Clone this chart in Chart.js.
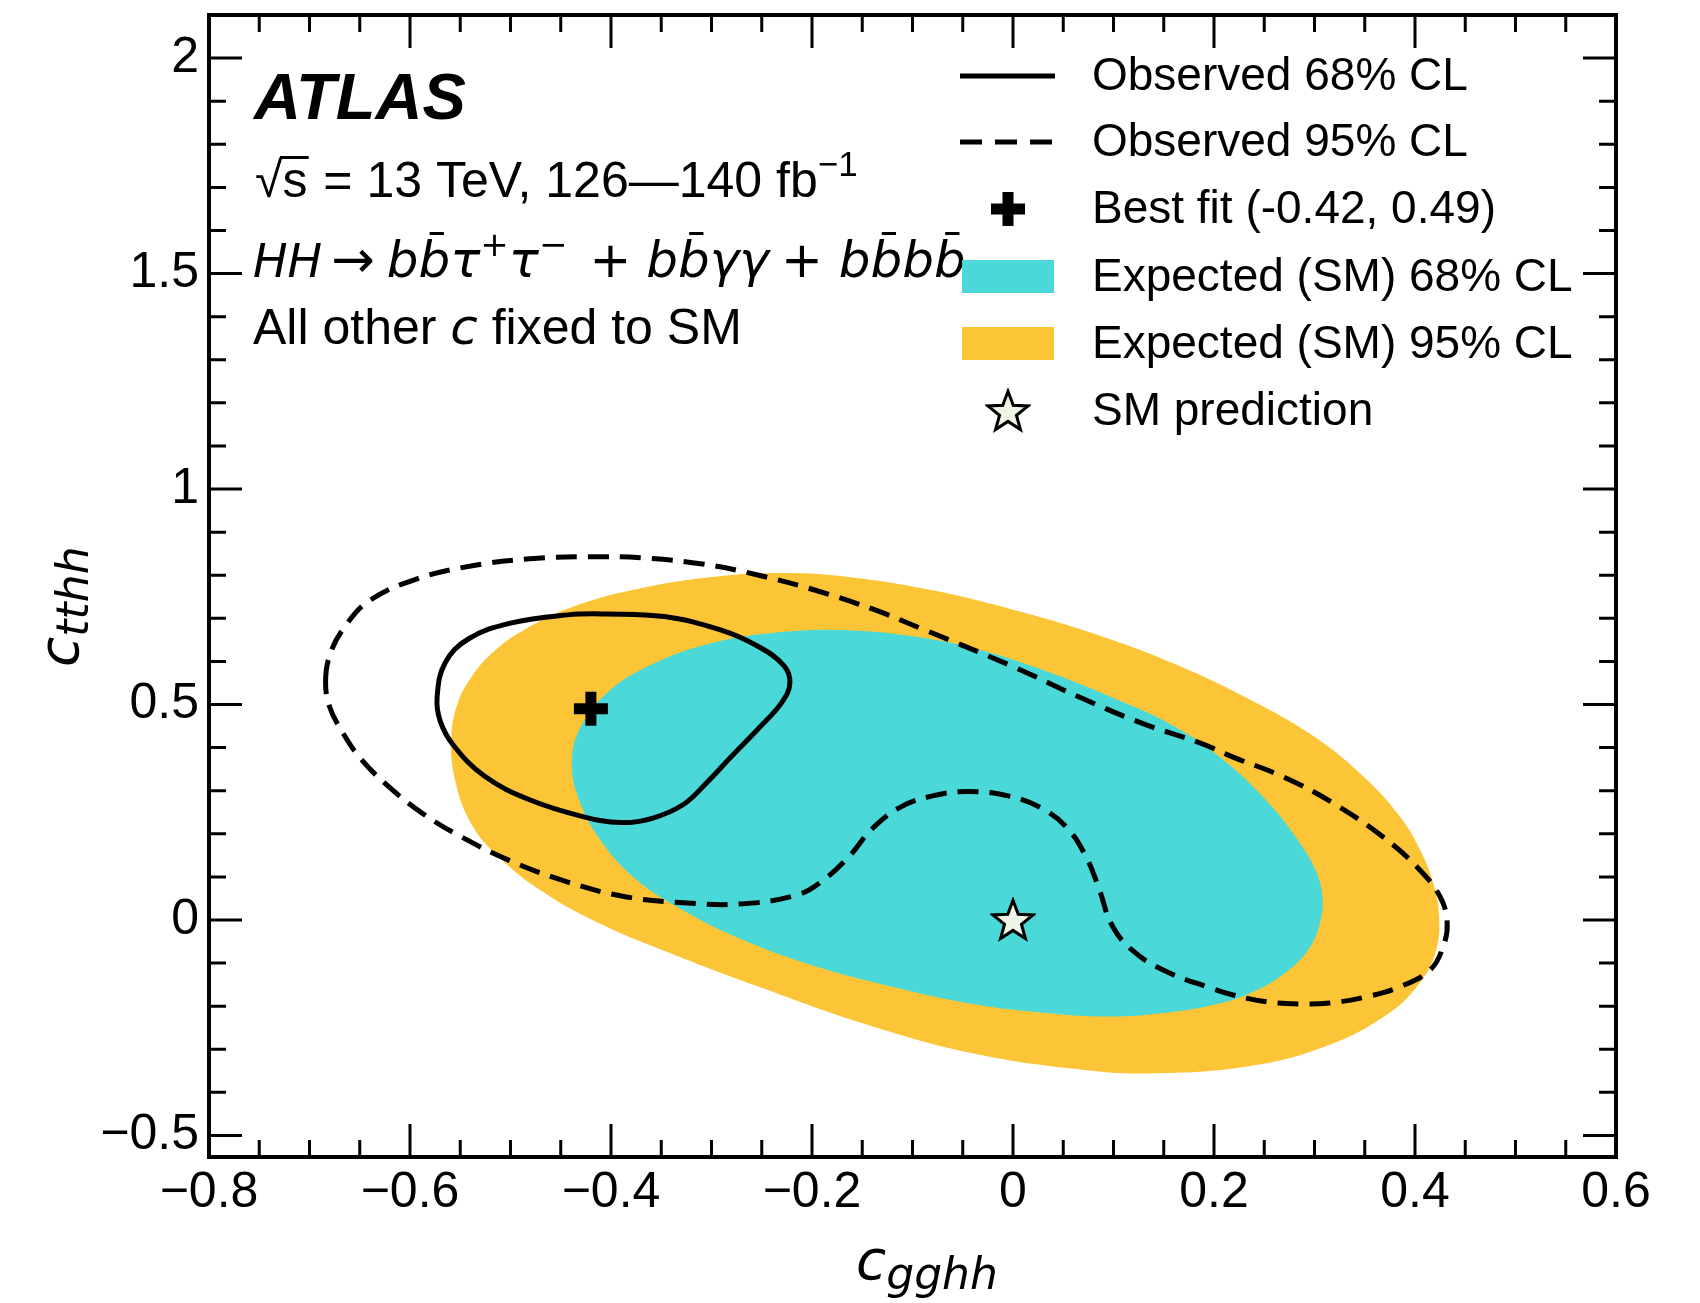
<!DOCTYPE html>
<html>
<head>
<meta charset="utf-8">
<title>c_gghh vs c_tthh likelihood contours</title>
<script src="https://cdn.jsdelivr.net/npm/chart.js@4.4.1/dist/chart.umd.min.js"></script>
<style>
  html, body { margin: 0; padding: 0; background: #fff; }
  #wrap { width: 1700px; height: 1303px; position: relative; }
</style>
</head>
<body>
<div id="wrap"><canvas id="contourChart"></canvas></div>
<script>
// Contours (c_gghh on x, c_tthh on y), closed loops
const exp95Cgghh = [-0.559, -0.553, -0.540, -0.518, -0.485, -0.44, -0.38, -0.31, -0.234, -0.16, -0.08, 0.0, 0.08, 0.16, 0.236, 0.30, 0.350, 0.385, 0.405, 0.418, 0.424, 0.421, 0.406, 0.373, 0.309, 0.233, 0.136, 0.071, -0.037, -0.145, -0.253, -0.339, -0.415, -0.469, -0.512, -0.539, -0.555];
const exp95Ctthh = [0.42, 0.50, 0.56, 0.62, 0.675, 0.725, 0.765, 0.793, 0.805, 0.795, 0.765, 0.72, 0.665, 0.595, 0.511, 0.425, 0.33, 0.24, 0.163, 0.086, 0.007, -0.07, -0.142, -0.218, -0.295, -0.340, -0.356, -0.348, -0.311, -0.243, -0.155, -0.079, -0.004, 0.067, 0.147, 0.223, 0.323];

const exp68Cgghh = [-0.439, -0.432, -0.405, -0.36, -0.30, -0.23, -0.16, -0.09, -0.03, 0.03, 0.10, 0.16, 0.21, 0.255, 0.285, 0.302, 0.308, 0.305, 0.295, 0.275, 0.245, 0.205, 0.15, 0.093, 0.03, -0.04, -0.12, -0.20, -0.27, -0.33, -0.378, -0.412, -0.432];
const exp68Ctthh = [0.36, 0.439, 0.525, 0.592, 0.642, 0.668, 0.672, 0.655, 0.625, 0.58, 0.515, 0.45, 0.37, 0.27, 0.18, 0.11, 0.05, -0.01, -0.065, -0.115, -0.16, -0.194, -0.216, -0.224, -0.215, -0.195, -0.155, -0.105, -0.045, 0.025, 0.10, 0.19, 0.28];

const obs68Cgghh = [-0.573, -0.565, -0.542, -0.500, -0.443, -0.405, -0.347, -0.291, -0.253, -0.228, -0.222, -0.230, -0.253, -0.280, -0.305, -0.328, -0.359, -0.390, -0.428, -0.481, -0.526, -0.557, -0.570];
const obs68Ctthh = [0.518, 0.597, 0.652, 0.689, 0.708, 0.710, 0.704, 0.673, 0.634, 0.590, 0.550, 0.505, 0.445, 0.380, 0.318, 0.268, 0.236, 0.226, 0.240, 0.279, 0.334, 0.406, 0.462];

const obs95Cgghh = [-0.684, -0.679, -0.665, -0.641, -0.595, -0.538, -0.481, -0.424, -0.367, -0.309, -0.253, -0.195, -0.138, -0.091, 0.0, 0.071, 0.130, 0.186, 0.219, 0.269, 0.318, 0.368, 0.402, 0.425, 0.432, 0.428, 0.415, 0.385, 0.352, 0.318, 0.286, 0.253, 0.219, 0.197, 0.151, 0.118, 0.098, 0.086, 0.072, 0.053, 0.028, -0.005, -0.045, -0.080, -0.112, -0.141, -0.162, -0.190, -0.215, -0.272, -0.328, -0.386, -0.443, -0.500, -0.549, -0.588, -0.622, -0.649, -0.667, -0.680];
const obs95Ctthh = [0.555, 0.620, 0.680, 0.740, 0.790, 0.822, 0.838, 0.843, 0.840, 0.826, 0.800, 0.764, 0.720, 0.676, 0.588, 0.512, 0.455, 0.411, 0.378, 0.332, 0.272, 0.193, 0.123, 0.054, -0.007, -0.062, -0.116, -0.155, -0.178, -0.192, -0.195, -0.190, -0.174, -0.158, -0.118, -0.069, -0.010, 0.070, 0.150, 0.216, 0.260, 0.288, 0.298, 0.288, 0.262, 0.210, 0.150, 0.090, 0.058, 0.037, 0.040, 0.054, 0.088, 0.137, 0.193, 0.248, 0.311, 0.374, 0.435, 0.495];

const bestFitCgghh = [-0.42];
const bestFitCtthh = [0.49];
const smCgghh = [0];
const smCtthh = [0];

const xTickValues = [-0.8, -0.6, -0.4, -0.2, 0, 0.2, 0.4, 0.6];
const yTickValues = [-0.5, 0, 0.5, 1, 1.5, 2];
const legendLabels = ['Observed 68% CL', 'Observed 95% CL', 'Best fit (-0.42, 0.49)', 'Expected (SM) 68% CL', 'Expected (SM) 95% CL', 'SM prediction'];

const TXT = '"Liberation Sans", Arial, Helvetica, sans-serif';
const MATH = '"DejaVu Sans", sans-serif';
const YELLOW = '#fcc437';
const CYAN = '#4ad9d8';

function toPoints(xs, ys) {
  return xs.map((x, i) => ({ x: x, y: ys[i] }));
}

function fmtTick(v) {
  const r = Math.round(v * 100) / 100;
  return String(r).replace('-', '\u2212');
}

// star marker for the SM point
function makeStar(size) {
  const c = document.createElement('canvas');
  c.width = size;
  c.height = size;
  const g = c.getContext('2d');
  const cx = size / 2, cy = size / 2 + 1.5;
  const R = size * 0.46, r = R * 0.42;
  g.beginPath();
  for (let i = 0; i < 10; i++) {
    const a = -Math.PI / 2 + i * Math.PI / 5;
    const rr = i % 2 ? r : R;
    g.lineTo(cx + rr * Math.cos(a), cy + rr * Math.sin(a));
  }
  g.closePath();
  g.fillStyle = '#eef4e6';
  g.fill();
  g.lineWidth = 3;
  g.strokeStyle = '#000';
  g.stroke();
  return c;
}
const starImg = makeStar(46);

// draw a run of text pieces left to right
function drawRuns(ctx, x, y, runs) {
  for (const r of runs) {
    ctx.font = r.font;
    const w = ctx.measureText(r.t).width;
    ctx.fillText(r.t, x + (r.pre || 0), y + (r.dy || 0));
    if (r.bar) {
      ctx.fillRect(x + (r.pre || 0) + w * r.bar[0], y - r.bar[1], w * r.bar[2], 3);
    }
    x += w + (r.pre || 0) + (r.kern || 0);
  }
  return x;
}

// let the contour lines close on themselves (smooth join at the start point)
const closedContours = {
  id: 'closedContours',
  afterDatasetsUpdate(chart) {
    chart.data.datasets.forEach((ds, i) => {
      if (!ds.closed) return;
      const line = chart.getDatasetMeta(i).dataset;
      if (line) {
        line._loop = true;
        line._fullLoop = true;
        line._segments = undefined;
        line._path = undefined;
      }
    });
  }
};

// frame plus inward ticks on all four sides
const insideTicks = {
  id: 'insideTicks',
  afterDatasetsDraw(chart) {
    const ctx = chart.ctx;
    const a = chart.chartArea;
    const xs = chart.scales.x, ys = chart.scales.y;
    ctx.save();
    ctx.strokeStyle = '#000';
    ctx.lineWidth = 3;
    ctx.beginPath();
    for (let i = 1; i < 28; i++) {
      const px = xs.getPixelForValue(-0.8 + i * 0.05);
      const len = i % 4 === 0 ? 33 : 17;
      ctx.moveTo(px, a.bottom); ctx.lineTo(px, a.bottom - len);
      ctx.moveTo(px, a.top); ctx.lineTo(px, a.top + len);
    }
    for (let i = 0; i <= 25; i++) {
      const py = ys.getPixelForValue(-0.5 + i * 0.1);
      const len = i % 5 === 0 ? 33 : 17;
      ctx.moveTo(a.left, py); ctx.lineTo(a.left + len, py);
      ctx.moveTo(a.right, py); ctx.lineTo(a.right - len, py);
    }
    ctx.stroke();
    ctx.lineWidth = 4;
    ctx.strokeRect(a.left, a.top, a.right - a.left, a.bottom - a.top);
    ctx.restore();
  }
};

// ATLAS label, legend and axis titles
const annotations = {
  id: 'annotations',
  afterDraw(chart) {
    const ctx = chart.ctx;
    ctx.save();
    ctx.fillStyle = '#000';
    ctx.strokeStyle = '#000';
    ctx.textAlign = 'left';
    ctx.textBaseline = 'alphabetic';

    ctx.font = 'italic bold 65px ' + TXT;
    ctx.fillText('ATLAS', 254, 119);

    const reg = '50px ' + TXT;
    const sup = '35px ' + TXT;
    const mIt = 'oblique 50px ' + MATH;
    const mReg = '50px ' + MATH;
    const mSup = '34px ' + MATH;
    // sqrt(s) line
    drawRuns(ctx, 255, 197, [
      { t: '\u221A', font: reg },
      { t: 's', font: reg, bar: [-0.1, 41, 1.15], kern: 2 },
      { t: ' = 13 TeV, 126\u2014140 fb', font: reg },
      { t: '\u22121', font: sup, dy: -21 }
    ]);
    // channel line
    const bb = [0.35, 45, 0.45];
    drawRuns(ctx, 253, 277, [
      { t: 'HH', font: 'oblique 46px ' + MATH },
      { t: '\u2192', font: '52px ' + MATH, pre: 9, kern: 12 },
      { t: 'b', font: mIt },
      { t: 'b', font: mIt, bar: bb },
      { t: '\u03C4', font: mIt },
      { t: '+', font: mSup, dy: -21 },
      { t: '\u03C4', font: mIt },
      { t: '\u2212', font: mSup, dy: -21 },
      { t: '+', font: mReg, pre: 22, kern: 15 },
      { t: 'b', font: mIt },
      { t: 'b', font: mIt, bar: bb },
      { t: '\u03B3\u03B3', font: mIt },
      { t: '+', font: mReg, pre: 12, kern: 16 },
      { t: 'b', font: mIt },
      { t: 'b', font: mIt, bar: bb },
      { t: 'b', font: mIt },
      { t: 'b', font: mIt, bar: bb }
    ]);
    drawRuns(ctx, 253, 344, [
      { t: 'All other ', font: reg },
      { t: 'c', font: 'oblique 50px ' + MATH },
      { t: ' fixed to SM', font: reg }
    ]);

    // legend
    const rows = [76, 142, 209, 277, 344, 411];
    const lx0 = 960, lx1 = 1055, mx = 1008;
    ctx.lineWidth = 5;
    ctx.beginPath(); ctx.moveTo(lx0, rows[0]); ctx.lineTo(lx1, rows[0]); ctx.stroke();
    ctx.setLineDash([22, 13]);
    ctx.beginPath(); ctx.moveTo(lx0, rows[1]); ctx.lineTo(lx1, rows[1]); ctx.stroke();
    ctx.setLineDash([]);
    ctx.fillRect(mx - 17, rows[2] - 5.5, 34, 11);
    ctx.fillRect(mx - 5.5, rows[2] - 17, 11, 34);
    ctx.fillStyle = CYAN;
    ctx.fillRect(962, rows[3] - 17, 92, 33);
    ctx.fillStyle = YELLOW;
    ctx.fillRect(962, rows[4] - 17, 92, 33);
    ctx.drawImage(starImg, mx - starImg.width / 2, rows[5] - starImg.height / 2);
    ctx.fillStyle = '#000';
    ctx.font = '46px ' + TXT;
    ctx.textBaseline = 'middle';
    legendLabels.forEach((lab, i) => ctx.fillText(lab, 1092, rows[i] + 1));

    // axis titles
    ctx.textBaseline = 'alphabetic';
    drawRuns(ctx, 856, 1279, [
      { t: 'c', font: 'oblique 55px ' + MATH },
      { t: 'gghh', font: 'oblique 44px ' + MATH, dy: 10 }
    ]);
    ctx.translate(78, 667);
    ctx.rotate(-Math.PI / 2);
    drawRuns(ctx, 0, 0, [
      { t: 'c', font: 'oblique 55px ' + MATH },
      { t: 'tthh', font: 'oblique 44px ' + MATH, dy: 10 }
    ]);
    ctx.restore();
  }
};

const ctx = document.getElementById('contourChart').getContext('2d');
new Chart(ctx, {
  type: 'line',
  data: {
    datasets: [
      {
        label: 'Expected (SM) 95% CL',
        data: toPoints(exp95Cgghh, exp95Ctthh),
        closed: true,
        borderWidth: 0,
        borderColor: YELLOW,
        backgroundColor: YELLOW,
        fill: 'shape',
        tension: 0.4,
        pointRadius: 0,
        order: 6
      },
      {
        label: 'Expected (SM) 68% CL',
        data: toPoints(exp68Cgghh, exp68Ctthh),
        closed: true,
        borderWidth: 0,
        borderColor: CYAN,
        backgroundColor: CYAN,
        fill: 'shape',
        tension: 0.4,
        pointRadius: 0,
        order: 5
      },
      {
        label: 'Observed 95% CL',
        data: toPoints(obs95Cgghh, obs95Ctthh),
        closed: true,
        borderColor: '#000',
        borderWidth: 5,
        borderDash: [21, 11],
        fill: false,
        tension: 0.4,
        pointRadius: 0,
        order: 4
      },
      {
        label: 'Observed 68% CL',
        data: toPoints(obs68Cgghh, obs68Ctthh),
        closed: true,
        borderColor: '#000',
        borderWidth: 5,
        fill: false,
        tension: 0.4,
        pointRadius: 0,
        order: 3
      },
      {
        label: 'Best fit',
        data: toPoints(bestFitCgghh, bestFitCtthh),
        showLine: false,
        pointStyle: 'cross',
        pointRadius: 17,
        pointBorderWidth: 11,
        pointBorderColor: '#000',
        order: 2
      },
      {
        label: 'SM prediction',
        data: toPoints(smCgghh, smCtthh),
        showLine: false,
        pointStyle: starImg,
        pointRadius: 20,
        order: 1
      }
    ]
  },
  options: {
    responsive: true,
    maintainAspectRatio: false,
    animation: false,
    events: [],
    layout: { autoPadding: false, padding: { left: 0, right: 84, top: 15, bottom: 0 } },
    plugins: {
      legend: { display: false },
      tooltip: { enabled: false }
    },
    scales: {
      x: {
        type: 'linear',
        min: -0.8,
        max: 0.6,
        grid: { display: false, drawTicks: false },
        border: { display: false },
        afterBuildTicks: s => { s.ticks = xTickValues.map(v => ({ value: v })); },
        afterFit: s => { s.height = 146; s.paddingLeft = 0; s.paddingRight = 0; },
        ticks: {
          padding: 6,
          color: '#000',
          maxRotation: 0,
          autoSkip: false,
          font: { family: TXT, size: 50 },
          callback: v => fmtTick(v)
        }
      },
      y: {
        type: 'linear',
        min: -0.55,
        max: 2.1,
        grid: { display: false, drawTicks: false },
        border: { display: false },
        afterBuildTicks: s => { s.ticks = yTickValues.map(v => ({ value: v })); },
        afterFit: s => { s.width = 209; s.paddingTop = 0; s.paddingBottom = 0; },
        ticks: {
          padding: 10,
          color: '#000',
          autoSkip: false,
          font: { family: TXT, size: 50 },
          callback: v => fmtTick(v)
        }
      }
    }
  },
  plugins: [closedContours, insideTicks, annotations]
});
</script>
</body>
</html>
